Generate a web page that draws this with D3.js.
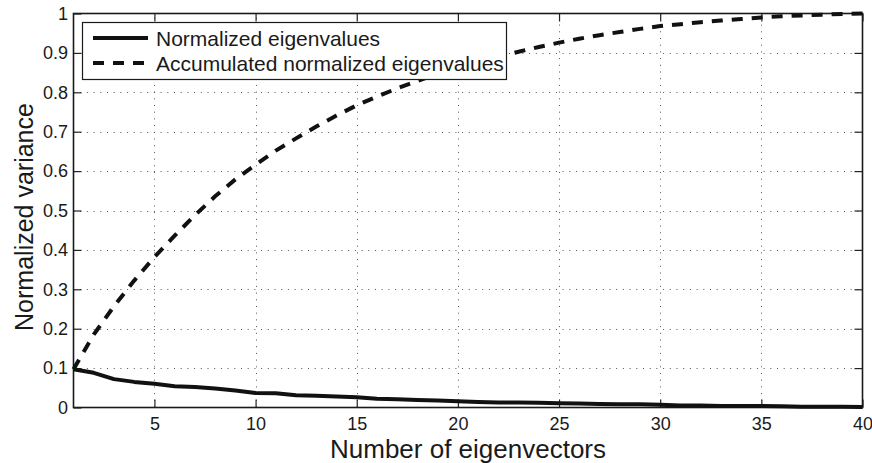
<!DOCTYPE html>
<html>
<head>
<meta charset="utf-8">
<script src="https://cdn.jsdelivr.net/npm/d3@7"></script>
<style>
  html, body { margin: 0; padding: 0; background: #fff; }
  svg { display: block; }
  text { font-family: "Liberation Sans", Arial, Helvetica, sans-serif; fill: #1a1a1a; }
</style>
</head>
<body>
<svg id="chart" width="872" height="463"></svg>
<script>
// Eigenvector index (x) and the two curves
const eigenvectors = d3.range(1, 41);
const normalizedEigenvalues = [
  0.097, 0.088, 0.072, 0.065, 0.060, 0.054, 0.052, 0.048, 0.043, 0.037,
  0.036, 0.031, 0.030, 0.028, 0.026, 0.022, 0.021, 0.019, 0.018, 0.016,
  0.014, 0.013, 0.013, 0.012, 0.011, 0.010, 0.009, 0.008, 0.008, 0.007,
  0.005, 0.005, 0.004, 0.004, 0.004, 0.003, 0.002, 0.002, 0.002, 0.001
];
const accumulatedEigenvalues = [
  0.097, 0.185, 0.257, 0.322, 0.382, 0.436, 0.488, 0.536, 0.579, 0.616,
  0.652, 0.683, 0.713, 0.741, 0.767, 0.789, 0.810, 0.829, 0.847, 0.863,
  0.877, 0.890, 0.903, 0.915, 0.926, 0.936, 0.945, 0.953, 0.961, 0.968,
  0.973, 0.978, 0.982, 0.986, 0.990, 0.993, 0.995, 0.997, 0.999, 1.000
];
const xTicks = [5, 10, 15, 20, 25, 30, 35, 40];
const yTicks = [0, 0.1, 0.2, 0.3, 0.4, 0.5, 0.6, 0.7, 0.8, 0.9, 1];
const seriesNames = ["Normalized eigenvalues", "Accumulated normalized eigenvalues"];

const svg = d3.select("#chart");
const plotLeft = 73.5, plotRight = 862.5, plotTop = 13.5, plotBottom = 407.5;

const x = d3.scaleLinear().domain([1, 40]).range([plotLeft, plotRight]);
const y = d3.scaleLinear().domain([0, 1]).range([plotBottom, plotTop]);

// dotted grid
const grid = svg.append("g").attr("stroke", "#555").attr("stroke-width", 1)
  .attr("stroke-dasharray", "1,5.7");
grid.selectAll("line.gx").data(xTicks.filter(d => d < 40)).join("line")
  .attr("x1", d => Math.round(x(d)) + 0.5).attr("x2", d => Math.round(x(d)) + 0.5)
  .attr("y1", plotBottom).attr("y2", plotTop);
grid.selectAll("line.gy").data(yTicks.filter(d => d > 0 && d < 1)).join("line")
  .attr("y1", d => Math.round(y(d)) + 0.5).attr("y2", d => Math.round(y(d)) + 0.5)
  .attr("x1", plotLeft).attr("x2", plotRight);

// axes with inward ticks on all four sides
const tickLen = 8;
const xAxis = d3.axisBottom(x).tickValues(xTicks).tickSizeInner(-tickLen).tickSizeOuter(0).tickPadding(10);
const yAxis = d3.axisLeft(y).tickValues(yTicks).tickFormat(d => d === 0 ? "0" : d === 1 ? "1" : d3.format(".1f")(d))
  .tickSizeInner(-tickLen).tickSizeOuter(0).tickPadding(5.5);

svg.append("g").attr("transform", `translate(0,${plotBottom})`).call(xAxis);
svg.append("g").attr("transform", `translate(${plotLeft},0)`).call(yAxis);
svg.append("g").attr("transform", `translate(0,${plotTop})`)
  .call(d3.axisTop(x).tickValues(xTicks).tickSizeInner(-tickLen).tickSizeOuter(0).tickFormat(""));
svg.append("g").attr("transform", `translate(${plotRight},0)`)
  .call(d3.axisRight(y).tickValues(yTicks).tickSizeInner(-tickLen).tickSizeOuter(0).tickFormat(""));

svg.selectAll(".domain").remove();
svg.selectAll(".tick line").attr("stroke", "#222").attr("stroke-width", 1.2);
svg.selectAll(".tick text").style("font-size", "18px").attr("fill", "#1a1a1a")
  .style("font-family", "'Liberation Sans', Arial, sans-serif");

// plot frame
svg.append("rect").attr("x", plotLeft).attr("y", plotTop)
  .attr("width", plotRight - plotLeft).attr("height", plotBottom - plotTop)
  .attr("fill", "none").attr("stroke", "#1a1a1a").attr("stroke-width", 1.6);

// curves
const pts = v => eigenvectors.map((e, i) => [e, v[i]]);
const line = d3.line().x(d => x(d[0])).y(d => y(d[1])).curve(d3.curveLinear);

svg.append("path").datum(pts(accumulatedEigenvalues))
  .attr("d", line).attr("fill", "none").attr("stroke", "#111")
  .attr("stroke-width", 4).attr("stroke-dasharray", "11,9");
svg.append("path").datum(pts(normalizedEigenvalues))
  .attr("d", line).attr("fill", "none").attr("stroke", "#111")
  .attr("stroke-width", 4).attr("stroke-linejoin", "round");

// legend
const lg = svg.append("g");
lg.append("rect").attr("x", 82.5).attr("y", 22.5).attr("width", 424).attr("height", 57)
  .attr("fill", "#fff").attr("stroke", "#1a1a1a").attr("stroke-width", 1.2);
const dashes = [null, "11,9"];
seriesNames.forEach((name, i) => {
  const cy = 38 + i * 25;
  lg.append("line").attr("x1", 93).attr("x2", 148).attr("y1", cy).attr("y2", cy)
    .attr("stroke", "#111").attr("stroke-width", 4)
    .attr("stroke-dasharray", dashes[i]);
  lg.append("text").attr("x", 156).attr("y", cy + 7.5)
    .style("font-size", "21px").text(name);
});

// axis titles
svg.append("text").attr("x", (plotLeft + plotRight) / 2).attr("y", 457.5)
  .attr("text-anchor", "middle").style("font-size", "26px").text("Number of eigenvectors");
svg.append("text").attr("transform", `translate(33,217) rotate(-90)`)
  .attr("text-anchor", "middle").style("font-size", "25px").text("Normalized variance");
</script>
</body>
</html>
